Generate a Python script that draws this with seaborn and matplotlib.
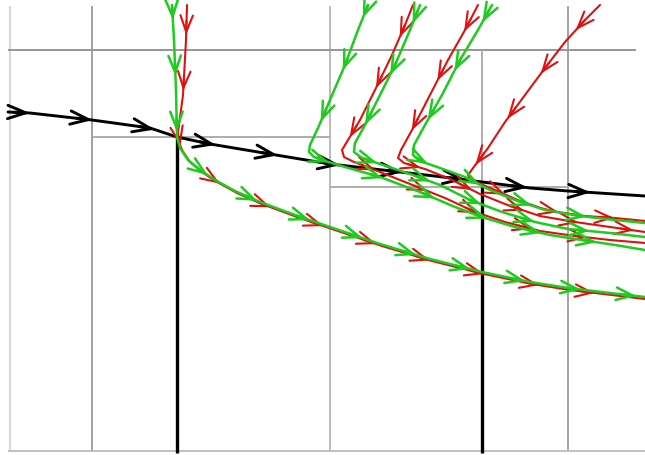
import numpy as np
import pandas as pd
import matplotlib
matplotlib.use("Agg")
import matplotlib.pyplot as plt
import seaborn as sns

# ---------------- data (pixel space of the diagram) ----------------
# guide grid
grid_vx = [10, 92, 330, 568]
grid_vcol = ["#d6d6d6", "#a0a0a0", "#bababa", "#a4a4a4"]
grid_h = [(50, 8, 636), (137, 92, 330), (187, 330, 568), (451, 8, 645)]
grid_hcol = ["#969696", "#adadad", "#adadad", "#c0c0c0"]
guide_482 = (482, 50, 187)
black_vx = [(177, 137, 453), (482, 187, 453)]

# black trajectory
black_x = [8, 30, 92, 150, 177, 210, 270, 330, 400, 460, 482, 530, 568, 645]
black_y = [112, 113, 120, 128, 137, 144, 154, 164, 172, 179, 182, 188, 191, 196]

# green trajectories
g0_x = [172, 174, 176, 177, 180, 188, 200, 215, 235, 260, 295, 330, 380, 430, 482, 530, 568, 610, 645]
g0_y = [5, 40, 90, 137, 148, 160, 170, 180, 191, 202, 215, 227, 244, 259, 272, 282, 288, 293, 297]
gA_x = [368, 358, 345, 330, 318, 310, 309, 314, 325, 345, 380, 420, 455, 485, 515, 550, 582, 615, 645]
gA_y = [5, 30, 65, 100, 128, 145, 152, 157, 161, 167, 177, 192, 207, 218, 227, 235, 240, 245, 250]
gB_x = [420, 410, 395, 380, 365, 355, 354, 362, 380, 410, 440, 470, 502, 535, 568, 610, 645]
gB_y = [5, 30, 65, 95, 125, 143, 152, 158, 164, 174, 185, 200, 212, 222, 229, 233, 237]
gC_x = [492, 478, 460, 442, 425, 414, 413, 420, 440, 465, 490, 515, 545, 580, 615, 645]
gC_y = [5, 30, 60, 95, 125, 145, 155, 161, 168, 177, 190, 200, 210, 216, 220, 223]

# red trajectories
r1_x = [187, 186, 183, 179, 177, 182, 190, 202, 217, 237, 262, 297, 332, 382, 432, 484, 532, 570, 612, 645]
r1_y = [5, 40, 95, 125, 137, 150, 162, 172, 182, 193, 204, 217, 229, 246, 261, 274, 284, 290, 295, 299]
r2_x = [413, 405, 392, 375, 360, 348, 342, 344, 354, 380, 410, 445, 475, 505, 540, 575, 610, 645]
r2_y = [5, 25, 55, 90, 120, 140, 150, 157, 162, 172, 184, 198, 212, 222, 231, 236, 240, 243]
r3_x = [478, 465, 448, 430, 412, 401, 398, 404, 425, 450, 480, 510, 540, 575, 610, 645]
r3_y = [5, 30, 60, 95, 130, 150, 158, 163, 169, 179, 194, 206, 216, 222, 227, 232]
r4_x = [600, 585, 565, 545, 525, 505, 488, 476, 468, 470, 490, 520, 550, 585, 615, 645]
r4_y = [5, 20, 42, 68, 95, 122, 148, 164, 175, 179, 188, 201, 211, 216, 218, 221]

GREEN = "#1fcb1f"
RED = "#df1010"
BLACK = "#000000"

# ---------------- figure ----------------
sns.set_theme(style="white")
fig = plt.figure(figsize=(6.45, 4.55), dpi=100)
ax = fig.add_axes([0, 0, 1, 1])
ax.set_xlim(0, 645)
ax.set_ylim(455, 0)
ax.axis("off")

for x, c in zip(grid_vx, grid_vcol):
    ax.vlines(x, 6, 452, color=c, lw=1.4, zorder=1)
for (y, x0, x1), c in zip(grid_h, grid_hcol):
    ax.hlines(y, x0, x1, color=c, lw=1.4, zorder=1)
ax.vlines(guide_482[0], guide_482[1], guide_482[2], color="#adadad", lw=1.4, zorder=1)
for x, y0, y1 in black_vx:
    ax.vlines(x, y0, y1, color=BLACK, lw=2.4, zorder=2)


def draw_curve(xs, ys, color, lw, z):
    sns.lineplot(x=xs, y=ys, sort=False, estimator=None, color=color,
                 linewidth=lw, ax=ax, zorder=z)


def arrows(xs, ys, color, lw, spacing, phase, L, hl, hw, z):
    pts = np.column_stack([xs, ys]).astype(float)
    seg = np.hypot(*np.diff(pts, axis=0).T)
    s = np.concatenate([[0.0], np.cumsum(seg)])
    total = s[-1]

    def at(d):
        return (np.interp(d, s, pts[:, 0]), np.interp(d, s, pts[:, 1]))

    for d in np.arange(phase, total - 3, spacing):
        tip = at(d)
        tail = at(max(d - L, 0))
        ax.annotate("", xy=tip, xytext=tail, zorder=z,
                    arrowprops=dict(arrowstyle=f"->,head_length={hl},head_width={hw}",
                                    color=color, lw=lw, shrinkA=0, shrinkB=0,
                                    mutation_scale=10))


# black
draw_curve(black_x, black_y, BLACK, 2.1, 3)
arrows(black_x, black_y, BLACK, 2.1, 63, 22, 16, 1.3, 0.48, 3)

# red (under green)
for xs, ys, ph in [(r1_x, r1_y, 30), (r2_x, r2_y, 35), (r3_x, r3_y, 30), (r4_x, r4_y, 35)]:
    draw_curve(xs, ys, RED, 1.5, 4)
    arrows(xs, ys, RED, 1.5, 56, ph, 14, 1.2, 0.45, 4)

# green
for xs, ys, ph in [(g0_x, g0_y, 15), (gA_x, gA_y, 14), (gB_x, gB_y, 20), (gC_x, gC_y, 20)]:
    draw_curve(xs, ys, GREEN, 1.8, 5)
    arrows(xs, ys, GREEN, 1.8, 56, ph, 14, 1.2, 0.45, 5)

fig.savefig("out.png", dpi=100, facecolor="white")
